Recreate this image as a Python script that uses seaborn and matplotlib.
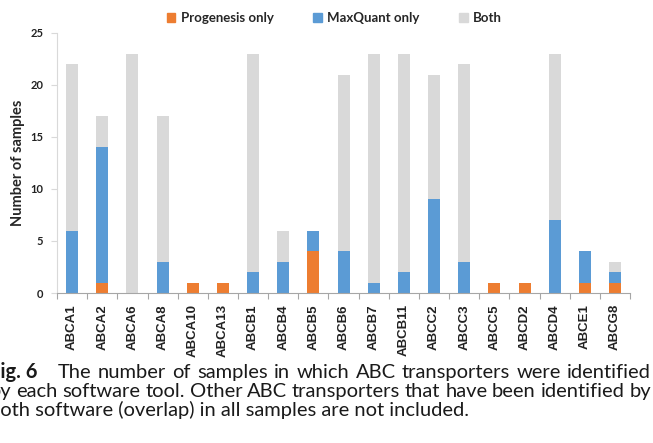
import numpy as np
import pandas as pd
import matplotlib
matplotlib.use('Agg')
import matplotlib.pyplot as plt
import seaborn as sns
from matplotlib.patches import Patch

# data
transporters = ['ABCA1', 'ABCA2', 'ABCA6', 'ABCA8', 'ABCA10', 'ABCA13', 'ABCB1',
                'ABCB4', 'ABCB5', 'ABCB6', 'ABCB7', 'ABCB11', 'ABCC2', 'ABCC3',
                'ABCC5', 'ABCD2', 'ABCD4', 'ABCE1', 'ABCG8']
progenesis_only = [0, 1, 0, 0, 1, 1, 0, 0, 4, 0, 0, 0, 0, 0, 1, 1, 0, 1, 1]
maxquant_only = [6, 13, 0, 3, 0, 0, 2, 3, 2, 4, 1, 2, 9, 3, 0, 0, 7, 3, 1]
both = [16, 3, 23, 14, 0, 0, 21, 3, 0, 17, 22, 21, 12, 19, 0, 0, 16, 0, 1]

caption = ['The number of samples in which ABC transporters were identified',
           'by each software tool. Other ABC transporters that have been identified by',
           'both software (overlap) in all samples are not included.']

col_prog = '#ED7D31'
col_maxq = '#5B9BD5'
col_both = '#D9D9D9'

df = pd.DataFrame({'gene': transporters,
                   'prog': progenesis_only,
                   'maxq': maxquant_only,
                   'both': both})
# cumulative heights for stacking
df['h_prog'] = df['prog']
df['h_maxq'] = df['prog'] + df['maxq']
df['h_both'] = df['prog'] + df['maxq'] + df['both']

sns.set_style('white')
plt.rcParams['font.family'] = ['Liberation Sans', 'DejaVu Sans']

W, H = 653, 443
fig = plt.figure(figsize=(W / 100, H / 100), dpi=100)
ax = fig.add_axes([0.0873, 0.3386, 0.8777, 0.587])

for col, c in [('h_both', col_both), ('h_maxq', col_maxq), ('h_prog', col_prog)]:
    sns.barplot(data=df, x='gene', y=col, color=c, width=0.4, ax=ax,
                saturation=1, linewidth=0)

ax.set_xlim(-0.48, len(transporters) - 0.52)
ax.set_ylim(0, 25)
ax.set_yticks([0, 5, 10, 15, 20, 25])
ax.set_yticklabels([str(v) for v in [0, 5, 10, 15, 20, 25]],
                   fontsize=8, fontweight='bold', family='Lato', color='#222222')
ax.set_xticks(range(len(transporters)))
ax.set_xticklabels(transporters, rotation=90, fontsize=9.5, fontweight='bold',
                   color='#222222')
ax.set_xticks(np.arange(-0.5, len(transporters), 1), minor=True)
ax.tick_params(axis='x', which='major', length=0, pad=8)
ax.tick_params(axis='x', which='minor', length=4, color='#A6A6A6', width=0.8,
               direction='out', bottom=True)
ax.tick_params(axis='y', length=4, color='#D9D9D9', width=0.8, left=True,
               direction='out', pad=6)

ax.set_xlabel('')
ax.set_ylabel('Number of samples', fontsize=10.5, fontweight='bold',
              family='Lato', labelpad=4)

for s in ['top', 'right']:
    ax.spines[s].set_visible(False)
ax.spines['left'].set_color('#D9D9D9')
ax.spines['bottom'].set_color('#A6A6A6')
ax.spines['left'].set_linewidth(0.8)
ax.spines['bottom'].set_linewidth(0.8)

handles = [Patch(color=col_prog, label='Progenesis only'),
           Patch(color=col_maxq, label='MaxQuant only'),
           Patch(color=col_both, label='Both')]
fig.legend(handles=handles, loc='upper center', bbox_to_anchor=(0.512, 1.0),
           ncol=3, frameon=False, handlelength=0.65, handleheight=0.65,
           columnspacing=3.0, handletextpad=0.4,
           prop={'family': 'Lato', 'weight': 'bold', 'size': 9.5})

# caption, justified and cut off on the left like the source image
renderer = fig.canvas.get_renderer()
cap = dict(fontsize=14.5, family='Lato', fontweight='normal', color='#1a1a1a',
           va='baseline')


def text_width(s, **kw):
    t = fig.text(0, 0, s, **kw)
    w = t.get_window_extent(renderer).width
    t.remove()
    return w


def justified(line, x0, x1, y, **kw):
    words = line.split(' ')
    widths = [text_width(w, **kw) for w in words]
    gap = (x1 - x0 - sum(widths)) / (len(words) - 1)
    x = x0
    for w, wd in zip(words, widths):
        fig.text(x / W, y, w, **kw)
        x += wd + gap


bold_cap = dict(cap, fontweight='bold')
fig.text(-text_width('F', **bold_cap) / W, 1 - 378 / H, 'Fig. 6', **bold_cap)
justified(caption[0], 58, 651, 1 - 378 / H, **cap)
justified(caption[1], -text_width('b', **cap) + 1, 651, 1 - 397 / H, **cap)
fig.text((-text_width('B', **cap) + 2) / W, 1 - 416 / H, caption[2], **cap)

fig.savefig('out.png', dpi=100)
